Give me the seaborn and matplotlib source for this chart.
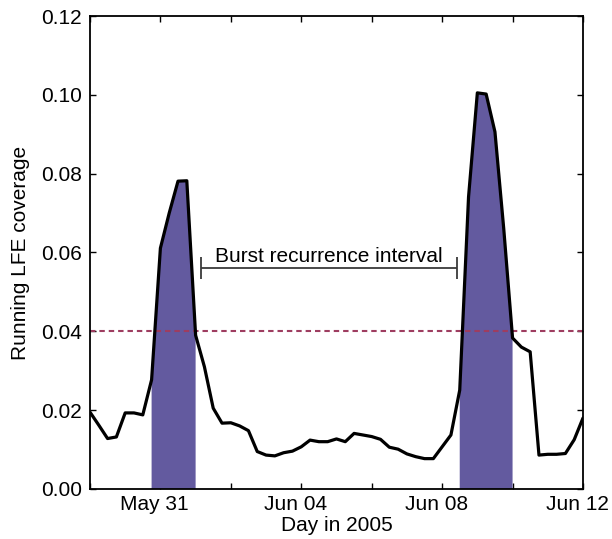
import numpy as np
import pandas as pd
import matplotlib
matplotlib.use("Agg")
import matplotlib.pyplot as plt
import matplotlib.dates as mdates
from matplotlib.transforms import ScaledTranslation
import seaborn as sns

# ---- data ----
start_time = "2005-05-29 00:00"
n_samples = 57
sample_freq = "6h"
coverage = [
    0.0195, 0.0162, 0.0128, 0.0132, 0.0193, 0.0193, 0.0188, 0.0277,
    0.0611, 0.0700, 0.0781, 0.0782, 0.0390, 0.0310, 0.0205, 0.0167,
    0.0168, 0.0160, 0.0148, 0.0095, 0.0086, 0.0084, 0.0092, 0.0096,
    0.0107, 0.0124, 0.0120, 0.0120, 0.0127, 0.0120, 0.0141, 0.0137,
    0.0133, 0.0126, 0.0106, 0.0101, 0.0089, 0.0082, 0.0077, 0.0077,
    0.0107, 0.0137, 0.0251, 0.0741, 0.1005, 0.1002, 0.0906, 0.0660,
    0.0383, 0.0360, 0.0348, 0.0086, 0.0088, 0.0088, 0.0090, 0.0125,
    0.0180,
]
threshold = 0.04
burst_windows = [("2005-05-30 18:00", "2005-06-01 00:00"),
                 ("2005-06-08 12:00", "2005-06-10 00:00")]
interval_span = ("2005-06-01 03:36", "2005-06-08 10:20")
interval_y = 0.0561
interval_label = "Burst recurrence interval"
tick_dates = ["2005-05-29", "2005-05-31", "2005-06-02", "2005-06-04",
              "2005-06-06", "2005-06-08", "2005-06-10", "2005-06-12"]
tick_labels = ["", "May 31", "", "Jun 04", "", "Jun 08", "", "Jun 12"]
y_ticks = [0.00, 0.02, 0.04, 0.06, 0.08, 0.10, 0.12]
x_label = "Day in 2005"
y_label = "Running LFE coverage"

# ---- build ----
times = pd.date_range(start_time, periods=n_samples, freq=sample_freq)
t = mdates.date2num(times.to_pydatetime())
df = pd.DataFrame({"t": t, "coverage": coverage})

sns.set_style("ticks")
plt.rcParams["font.family"] = ["Liberation Sans", "DejaVu Sans"]
plt.rcParams["font.size"] = 15
for k in ["text.color", "axes.labelcolor", "xtick.color", "ytick.color",
          "axes.edgecolor"]:
    plt.rcParams[k] = "black"

fig = plt.figure(figsize=(6.12, 5.39), dpi=100)
ax = fig.add_axes([0.147, 0.0928, 0.8056, 0.8775])

y = np.array(coverage)
mask = np.zeros(len(t), dtype=bool)
for a, b in burst_windows:
    ta = mdates.date2num(pd.Timestamp(a).to_pydatetime())
    tb = mdates.date2num(pd.Timestamp(b).to_pydatetime())
    mask |= (t >= ta - 1e-6) & (t <= tb + 1e-6)
ax.fill_between(t, 0, y, where=mask, color="#635a9f", linewidth=0, zorder=1)

ax.axhline(threshold, color="#9e3d60", lw=1.5, ls=(0, (2.6, 1.9)), zorder=2)

sns.lineplot(data=df, x="t", y="coverage", ax=ax, color="black", lw=2.3, zorder=3)

ia = mdates.date2num(pd.Timestamp(interval_span[0]).to_pydatetime())
ib = mdates.date2num(pd.Timestamp(interval_span[1]).to_pydatetime())
ax.errorbar([(ia + ib) / 2], [interval_y], xerr=[(ib - ia) / 2], fmt="none",
            ecolor="#3a3a3a", elinewidth=1.3, capsize=8, capthick=1.3, zorder=4)
ax.text((ia + ib) / 2, interval_y + 0.0016, interval_label, ha="center",
        va="baseline", fontsize=15, color="black")

ax.set_xlim(t[0], t[-1])
ax.set_ylim(0, 0.12)
tk = mdates.date2num(pd.to_datetime(tick_dates).to_pydatetime())
ax.set_xticks(tk)
ax.set_xticklabels(tick_labels)
ax.set_yticks(y_ticks)
ax.set_yticklabels([f"{v:.2f}" for v in y_ticks])
ax.tick_params(direction="in", top=True, right=True, length=4.5, width=1.0,
               labelsize=15, color="black", labelcolor="black")
ax.tick_params(axis="x", pad=4)
ax.tick_params(axis="y", pad=6)
for lab in ax.get_xticklabels():
    lab.set_transform(lab.get_transform() + ScaledTranslation(-6 / 100, 0, fig.dpi_scale_trans))
for s in ax.spines.values():
    s.set_visible(True)
    s.set_linewidth(1.3)
    s.set_color("black")

ax.set_xlabel(x_label, fontsize=15, labelpad=2, color="black")
ax.set_ylabel(y_label, fontsize=15, labelpad=8, color="black")

fig.savefig("out.png", dpi=100)
